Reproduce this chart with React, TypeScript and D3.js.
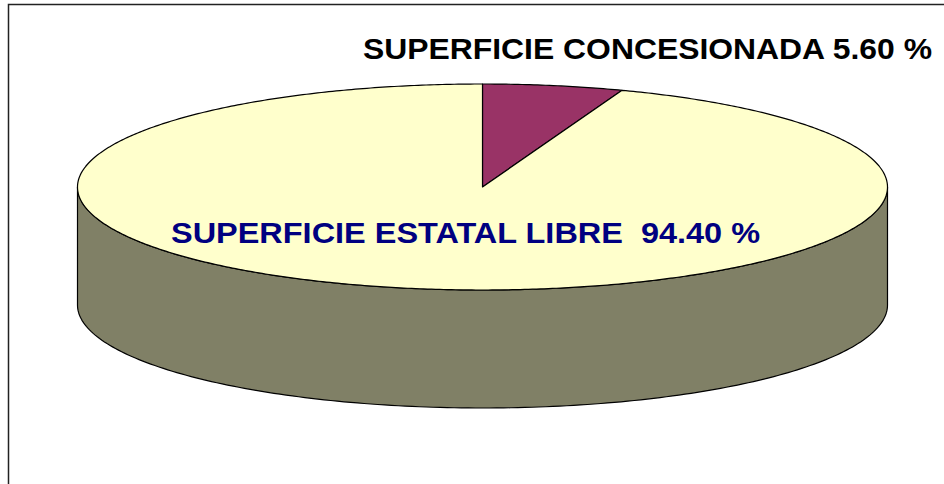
import React, { useRef, useEffect } from 'react';
import * as d3 from 'd3';

const categories = ['SUPERFICIE CONCESIONADA', 'SUPERFICIE ESTATAL LIBRE'];
const values = [5.6, 94.4];
const labels = ['SUPERFICIE CONCESIONADA 5.60 %', 'SUPERFICIE ESTATAL LIBRE  94.40 %'];
const topColors = ['#993366', '#FFFFCC'];
const sideColor = '#808066';

const App: React.FC = () => {
  const svgRef = useRef<SVGSVGElement>(null);

  useEffect(() => {
    if (!svgRef.current) return;
    const width = 944;
    const height = 484;
    const cx = 482.5, cy = 187, rx = 405, ry = 103, depth = 118;

    const svg = d3.select(svgRef.current);
    svg.selectAll('*').remove();

    svg.append('rect').attr('width', width).attr('height', height).attr('fill', 'white');

    // chart frame (only top and left edges fall inside the window)
    svg.append('path')
      .attr('d', `M8.5,${height}V4.5H${width}`)
      .attr('fill', 'none')
      .attr('stroke', '#222').attr('stroke-width', 1.5);

    const pt = (a: number, dy = 0): [number, number] => [cx + rx * Math.sin(a), cy - ry * Math.cos(a) + dy];
    const line = d3.line();

    // front side wall (angles pi/2 .. 3pi/2)
    const front = d3.range(0, 181).map(i => Math.PI / 2 + (i / 180) * Math.PI);
    const sidePts: [number, number][] = [
      ...front.map(a => pt(a, depth)),
      ...front.slice().reverse().map(a => pt(a)),
    ];
    svg.append('path')
      .attr('d', line(sidePts) + 'Z')
      .attr('fill', sideColor)
      .attr('stroke', '#000').attr('stroke-width', 1.2)
      .attr('stroke-linejoin', 'round');

    // top slices
    const pie = d3.pie<number>().sort(null).value(d => d);
    const arcs = pie(values);
    svg.append('g')
      .selectAll('path')
      .data(arcs)
      .join('path')
      .attr('d', d => {
        const n = Math.max(2, Math.ceil((d.endAngle - d.startAngle) / 0.01));
        const pts: [number, number][] = [[cx, cy]];
        for (let i = 0; i <= n; i++) pts.push(pt(d.startAngle + (d.endAngle - d.startAngle) * i / n));
        return line(pts) + 'Z';
      })
      .attr('fill', (d, i) => topColors[i])
      .attr('stroke', '#000').attr('stroke-width', 1.2)
      .attr('stroke-linejoin', 'round')
      .append('title').text((d, i) => categories[i]);

    // labels
    svg.append('text')
      .attr('x', 363).attr('y', 59)
      .attr('font-family', 'Liberation Sans, Arial, sans-serif')
      .attr('font-weight', 'bold').attr('font-size', 30)
      .attr('textLength', 569).attr('lengthAdjust', 'spacingAndGlyphs')
      .attr('fill', '#000')
      .text(labels[0]);

    svg.append('text')
      .attr('x', 171).attr('y', 243)
      .attr('font-family', 'Liberation Sans, Arial, sans-serif')
      .attr('font-weight', 'bold').attr('font-size', 30)
      .attr('textLength', 589).attr('lengthAdjust', 'spacingAndGlyphs')
      .attr('fill', '#000080')
      .style('white-space', 'pre')
      .text(labels[1]);
  }, []);

  return (
    <svg ref={svgRef} width={944} height={484}
      style={{ position: 'absolute', left: 0, top: 0, display: 'block' }} />
  );
};

export default App;
